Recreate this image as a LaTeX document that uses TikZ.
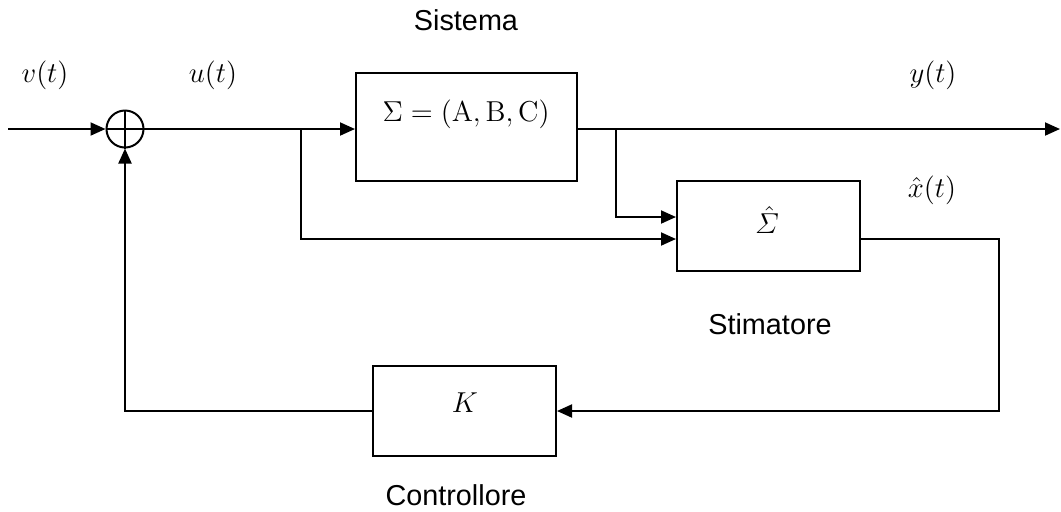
\documentclass[tikz,border=0pt]{standalone}
\usepackage{fontspec}
\newfontfamily\labelfont{Liberation Sans}
\usetikzlibrary{arrows.meta}
\begin{document}
\begin{tikzpicture}[x=0.5pt,y=-0.5pt,
  line width=1pt,
  >={Triangle[length=7.5pt,width=6.5pt]},
  blk/.style={draw,rectangle,inner sep=0pt},
  txt/.style={inner sep=0pt,font=\labelfont\fontsize{14.4}{17}\selectfont},
  mth/.style={inner sep=0pt,font=\fontsize{14.4}{17}\selectfont},
  sumpt/.style={draw,circle,minimum size=18.5pt,inner sep=0pt}]
\useasboundingbox (0,0) rectangle (1061,511);

% summing junction
\node[sumpt] (sum) at (125,129) {};
\draw (sum.north) -- (sum.south) (sum.west) -- (sum.east);

% blocks
\node[blk,minimum width=110.5pt,minimum height=54pt] (sys) at (466.5,127) {};
\node[mth] (syslbl) at (466,114) {$\Sigma=(\mathrm{A},\mathrm{B},\mathrm{C})$};
\node[blk,minimum width=91.5pt,minimum height=45pt] (est) at (768.5,226) {};
\node[mth] (estlbl) at (767,220) {$\hat{\mathnormal{\Sigma}}$};
\node[blk,minimum width=91.5pt,minimum height=45pt] (ctl) at (464.5,411) {};
\node[mth] (ctllbl) at (465,403) {$K$};

% captions
\node[txt] (cap1) at (466,20) {Sistema};
\node[txt] (cap2) at (770,324) {Stimatore};
\node[txt] (cap3) at (456,495) {Controllore};

% signal names
\node[mth] (vl) at (45,75) {$v(t)$};
\node[mth] (ul) at (213,75) {$u(t)$};
\node[mth] (yl) at (933,75) {$y(t)$};
\node[mth] (xl) at (932,190) {$\hat{x}(t)$};

% connection points
\coordinate (in) at (8,129);
\coordinate (sysI) at (sys.west |- 0,129);
\coordinate (sysO) at (sys.east |- 0,129);
\coordinate (out) at (1060,129);
\coordinate (bu) at (301,129);
\coordinate (by) at (616,129);
\coordinate (estA) at (est.west |- 0,217);
\coordinate (estB) at (est.west |- 0,239);
\coordinate (estO) at (est.east |- 0,239);
\coordinate (rc) at (999,239);
\coordinate (lc) at (125,411);

% signal flow
\draw[->] (in) -- (sum.west);
\draw[->] (sum.east) -- (sysI);
\draw[->] (sysO) -- (out);
\draw[->] (bu) |- (estB);
\draw[->] (by) |- (estA);
\draw[->] (estO) -- (rc) |- (ctl.east);
\draw[->] (ctl.west) -- (lc) -- (sum.south);
\end{tikzpicture}
\end{document}
